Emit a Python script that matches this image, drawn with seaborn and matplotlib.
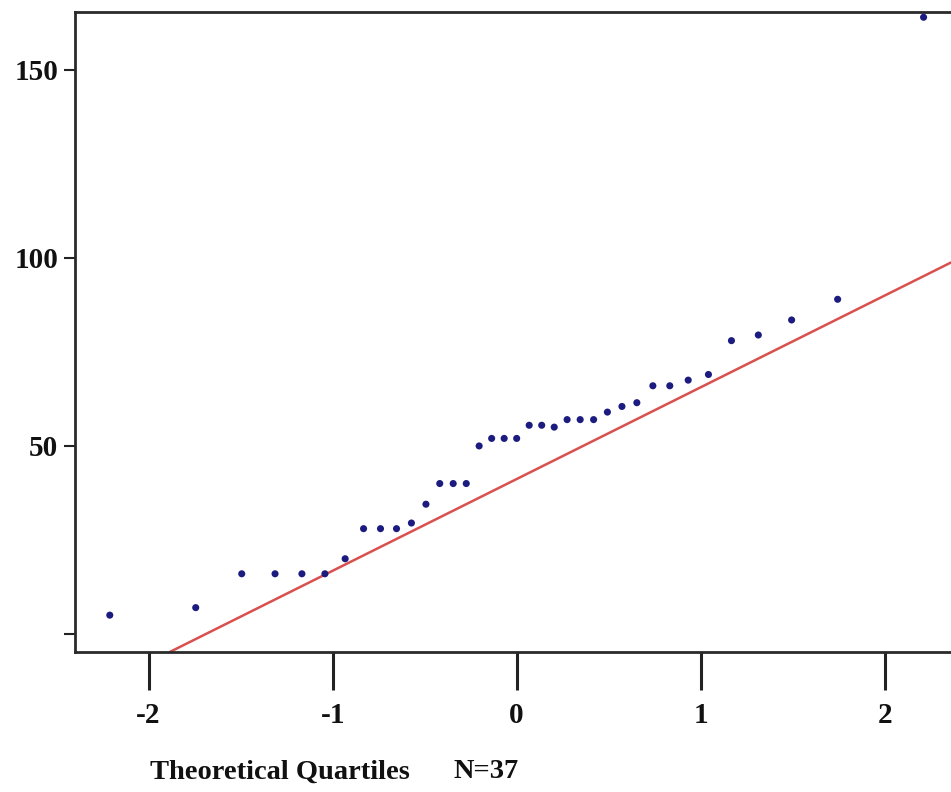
import matplotlib
matplotlib.use("Agg")
import matplotlib.pyplot as plt
import seaborn as sns
import pandas as pd

theoretical = [-2.211, -1.744, -1.494, -1.313, -1.167, -1.042, -0.932, -0.832, -0.740,
               -0.653, -0.572, -0.493, -0.418, -0.345, -0.274, -0.204, -0.136, -0.068,
               0.0, 0.068, 0.136, 0.204, 0.274, 0.345, 0.418, 0.493, 0.572, 0.653,
               0.740, 0.832, 0.932, 1.042, 1.167, 1.313, 1.494, 1.744, 2.211]
observed = [5, 7, 16, 16, 16, 16, 20, 28, 28, 28, 29.5, 34.5, 40, 40, 40, 50, 52, 52,
            52, 55.5, 55.5, 55, 57, 57, 57, 59, 60.5, 61.5, 66, 66, 67.5, 69, 78, 79.5,
            83.5, 89, 164]
line_intercept = 41.2
line_slope = 24.4
x_ticks = [-2, -1, 0, 1, 2]
y_ticks = [0, 50, 100, 150]
y_tick_labels = ["", "50", "100", "150"]
x_label = "Theoretical Quartiles"
n_label = "N=37"

df = pd.DataFrame({"theoretical": theoretical, "observed": observed})

sns.set_theme(style="white")
plt.rcParams["font.family"] = ["Liberation Serif", "DejaVu Serif"]
plt.rcParams["font.weight"] = "bold"

fig = plt.figure(figsize=(9.51, 7.92), dpi=100)
ax = fig.add_axes([75 / 951, 1 - 652 / 792, 1 - 75 / 951, (652 - 12) / 792])

ax.axline((0, line_intercept), slope=line_slope, color="#d9504e", lw=1.8, zorder=2)
sns.scatterplot(data=df, x="theoretical", y="observed", ax=ax, color="#1c1c80",
                s=26, marker="o", edgecolor="none", zorder=3)

ax.set_xlim(-2.40, 2.36)
ax.set_ylim(-4.8, 165.4)
ax.set_xticks(x_ticks)
ax.set_xticklabels([str(t) for t in x_ticks], fontsize=21, fontweight="bold")
ax.set_yticks(y_ticks)
ax.set_yticklabels(y_tick_labels, fontsize=21, fontweight="bold")
ax.set_xlabel("")
ax.set_ylabel("")

ax.tick_params(axis="x", direction="out", length=27, width=2.2, color="#222222",
               pad=9, bottom=True, labelcolor="#111111")
ax.tick_params(axis="y", direction="out", length=8, width=1.5, color="#222222",
               pad=4, left=True, labelcolor="#111111")

for side in ["left", "top", "bottom"]:
    ax.spines[side].set_visible(True)
    ax.spines[side].set_color("#2a2a2a")
    ax.spines[side].set_linewidth(2.0)
ax.spines["right"].set_visible(False)

fig.text(150 / 951, 1 - 772 / 792, x_label, fontsize=20.5, fontweight="bold",
         ha="left", va="center", color="#111111")
fig.text(453 / 951, 1 - 772 / 792, n_label, fontsize=20.5, fontweight="bold",
         ha="left", va="center", color="#111111")

fig.savefig("out.png", dpi=100, facecolor="white")
